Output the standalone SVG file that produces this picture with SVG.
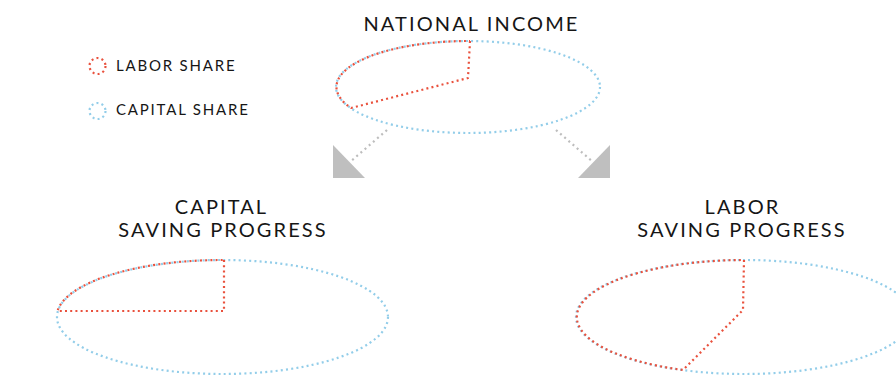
<svg xmlns="http://www.w3.org/2000/svg" width="896" height="375" viewBox="0 0 896 375">
<style>
  .t { font-family: "Lato", "Noto Sans", "Liberation Sans", sans-serif; fill: #161616; font-weight: 400; }
  .title { font-size: 20px; text-anchor: middle; letter-spacing: 2.1px; }
  .leg { font-size: 15px; letter-spacing: 1.8px; }
  .cap { fill: none; stroke: #92cde9; stroke-width: 2.2; stroke-dasharray: 2 3.2; }
  .lab { fill: none; stroke: #e9513d; stroke-width: 2.2; stroke-dasharray: 2 3.2; stroke-linejoin: round; }
  .arr { fill: none; stroke: #bdbdbd; stroke-width: 2.2; stroke-dasharray: 2 3.5; }
  .head { fill: #bfbfbf; }
</style>
<rect width="896" height="375" fill="#ffffff"/>
<g id="legend">
  <circle class="lab" cx="97.5" cy="66" r="8"/>
  <text class="t leg" x="116" y="71">LABOR SHARE</text>
  <circle class="cap" cx="97.5" cy="111" r="8"/>
  <text class="t leg" x="116" y="115">CAPITAL SHARE</text>
</g>
<g id="national-income">
  <text class="t title" x="471.5" y="31">NATIONAL INCOME</text>
  <ellipse class="cap" cx="468" cy="87" rx="132" ry="46"/>
  <path class="lab" d="M470,41 L468,78 L351,108 A132,46 0 0 1 470,41"/>
</g>
<g id="capital-saving">
  <text class="t title" x="221.5" y="214">CAPITAL</text>
  <text class="t title" x="223" y="237">SAVING PROGRESS</text>
  <ellipse class="cap" cx="222.5" cy="317" rx="165.5" ry="57"/>
  <path class="lab" d="M224,260 L224,311 L57.5,311 A165.5,57 0 0 1 224,260"/>
</g>
<g id="labor-saving">
  <text class="t title" x="742.5" y="214">LABOR</text>
  <text class="t title" x="742" y="237">SAVING PROGRESS</text>
  <ellipse class="cap" cx="744" cy="317" rx="168" ry="57"/>
  <path class="lab" d="M744,260 L743,310 L683,370 A168,57 0 0 1 744,260"/>
</g>
<g id="connectors">
  <line class="arr" x1="387" y1="130" x2="350" y2="162"/>
  <polygon class="head" points="333,145 333,178 365,178"/>
  <line class="arr" x1="556" y1="130" x2="593" y2="162"/>
  <polygon class="head" points="610,145 610,178 578,178"/>
</g>
</svg>
